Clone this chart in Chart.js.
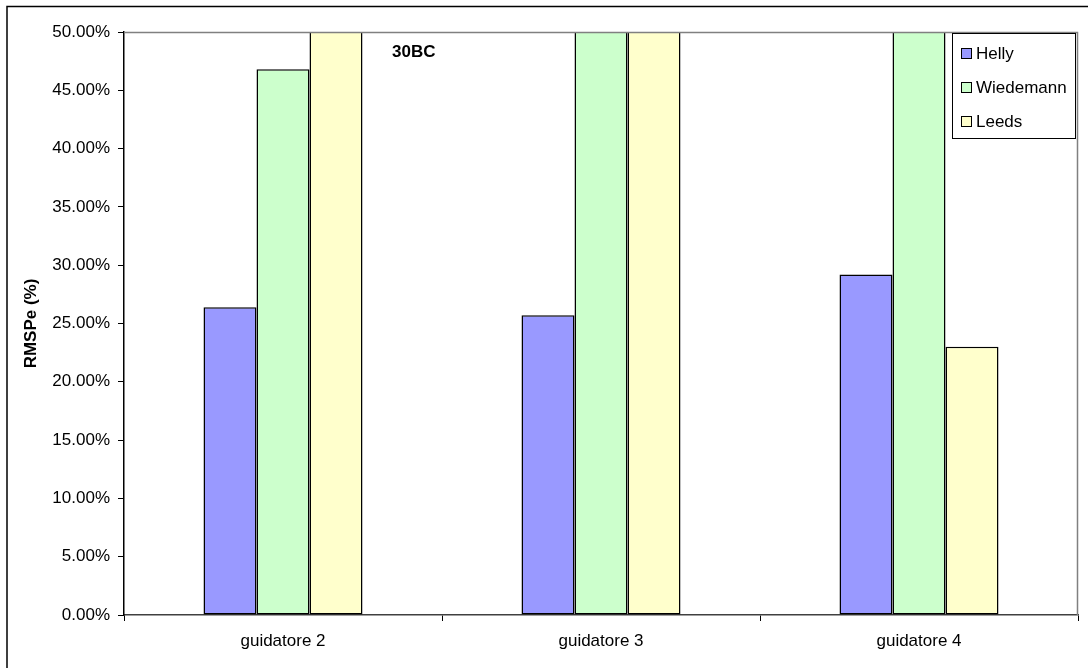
<!DOCTYPE html>
<html>
<head>
<meta charset="utf-8">
<script src="https://cdn.jsdelivr.net/npm/chart.js@4"></script>
<style>
html,body{margin:0;padding:0;background:#fff;}
#wrap{position:relative;width:1088px;height:668px;}
</style>
</head>
<body>
<div id="wrap"><canvas id="c" width="1088" height="668"></canvas></div>
<script>
const categories = ["guidatore 2", "guidatore 3", "guidatore 4"];
const seriesNames = ["Helly", "Wiedemann", "Leeds"];
const helly = [26.4, 25.7, 29.2];
const wiedemann = [46.8, 62.0, 60.0];
const leeds = [58.0, 61.0, 23.0];
const seriesColors = ["#9999FF", "#CCFFCC", "#FFFFCC"];
const yTicks = [0, 5, 10, 15, 20, 25, 30, 35, 40, 45, 50];
const titleText = "30BC";
const yTitle = "RMSPe (%)";

const FONT = "'Liberation Sans', Arial, sans-serif";
const FS = 17;

const framePlugin = {
  id: 'frame',
  beforeDraw(chart) {
    const ctx = chart.ctx;
    ctx.save();
    ctx.fillStyle = '#fff';
    ctx.fillRect(0, 0, chart.width, chart.height);
    ctx.strokeStyle = '#000';
    ctx.lineWidth = 1.5;
    ctx.beginPath();
    ctx.moveTo(7, 668);
    ctx.lineTo(7, 6.5);
    ctx.lineTo(1088, 6.5);
    ctx.stroke();
    ctx.restore();
  },
  afterDatasetsDraw(chart) {
    const ctx = chart.ctx;
    const a = chart.chartArea;
    ctx.save();
    ctx.strokeStyle = '#808080';
    ctx.lineWidth = 1.5;
    ctx.beginPath();
    ctx.moveTo(a.left, a.top + 0.5);
    ctx.lineTo(a.right - 0.5, a.top + 0.5);
    ctx.lineTo(a.right - 0.5, a.bottom);
    ctx.stroke();
    // title text
    ctx.fillStyle = '#000';
    ctx.font = "bold " + FS + "px " + FONT;
    ctx.textBaseline = 'middle';
    ctx.textAlign = 'left';
    ctx.fillText(titleText, 392, 52);
    // legend
    const lx = 952, ly = 33, lw = 123, lh = 105;
    ctx.fillStyle = '#fff';
    ctx.fillRect(lx, ly, lw, lh);
    ctx.strokeStyle = '#000';
    ctx.lineWidth = 1;
    ctx.strokeRect(lx + 0.5, ly + 0.5, lw, lh);
    ctx.font = FS + "px " + FONT;
    chart.data.datasets.forEach((ds, i) => {
      const y = ly + 20 + i * 34;
      ctx.fillStyle = ds.backgroundColor;
      ctx.fillRect(lx + 9, y - 5, 11, 11);
      ctx.strokeStyle = '#000';
      ctx.strokeRect(lx + 9.5, y - 4.5, 10, 10);
      ctx.fillStyle = '#000';
      ctx.fillText(ds.label, lx + 24, y + 1);
    });
    ctx.restore();
  }
};

const datasets = [helly, wiedemann, leeds].map((vals, i) => ({
  label: seriesNames[i],
  data: vals,
  backgroundColor: seriesColors[i],
  borderColor: '#000',
  borderWidth: 1.5,
  borderSkipped: false,
  categoryPercentage: 0.5,
  barPercentage: 1.0
}));

new Chart(document.getElementById('c'), {
  type: 'bar',
  data: { labels: categories, datasets },
  options: {
    responsive: false,
    animation: false,
    devicePixelRatio: 1,
    layout: { padding: { left: 0, right: 10, top: 32, bottom: 0 } },
    plugins: { legend: { display: false }, tooltip: { enabled: false } },
    scales: {
      x: {
        grid: { display: true, drawOnChartArea: false, offset: true, color: '#000', tickLength: 6, tickColor: '#000' },
        border: { display: true, color: '#404040', width: 1.5 },
        ticks: { color: '#000', font: { family: FONT, size: FS }, padding: 10 },
        afterFit(s) { s.height = 53; }
      },
      y: {
        min: 0, max: 50,
        afterBuildTicks(s) { s.ticks = yTicks.map(v => ({ value: v })); },
        grid: { display: true, drawOnChartArea: false, color: '#000', tickLength: 6, tickColor: '#000' },
        border: { display: true, color: '#000', width: 1.5 },
        ticks: {
          color: '#000', font: { family: FONT, size: FS }, padding: 8,
          callback: v => v.toFixed(2) + '%'
        },
        title: { display: true, text: yTitle, color: '#000', font: { family: FONT, size: FS, weight: 'bold' }, padding: { top: 21, bottom: 0 } },
        afterFit(s) { s.width = 124; }
      }
    }
  },
  plugins: [framePlugin]
});
</script>
</body>
</html>
